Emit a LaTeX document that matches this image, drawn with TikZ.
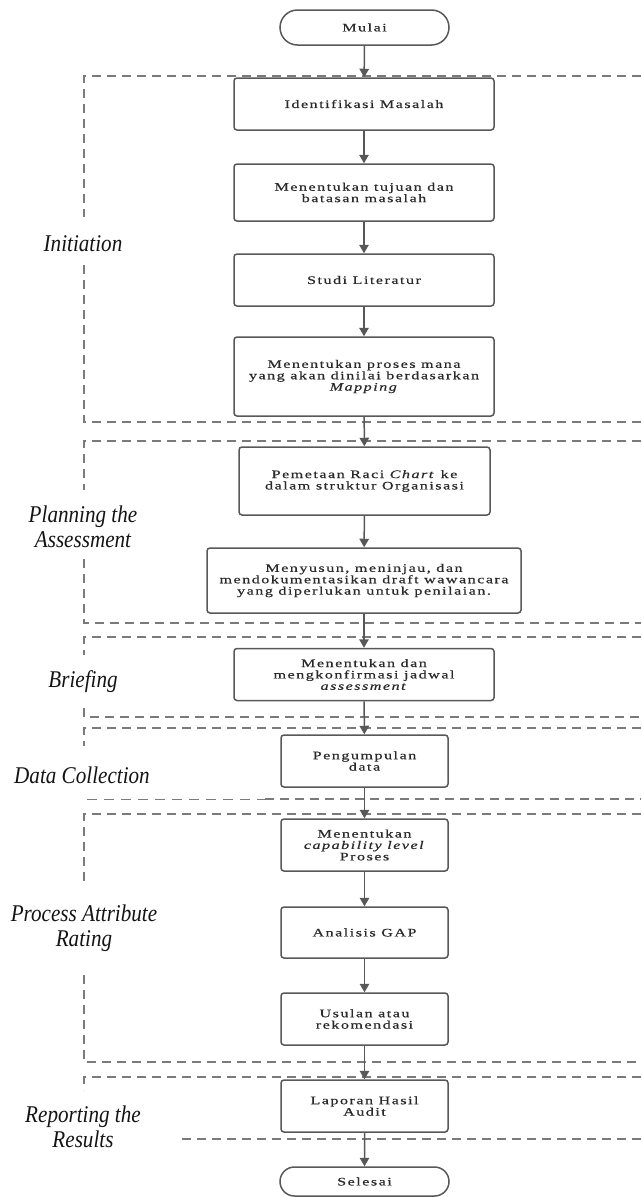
\documentclass[tikz,border=0pt]{standalone}
\usepackage{fontspec}
\setmainfont{Liberation Serif}
\newfontfamily\bxfont[FakeStretch=1.4,LetterSpace=13,FakeBold=0.5]{Liberation Serif}
\newfontfamily\labfont[FakeStretch=0.88]{Liberation Serif}
\usetikzlibrary{arrows.meta,shapes.misc}
\definecolor{ln}{HTML}{585858}
\definecolor{dsh}{HTML}{7A7A7A}
\definecolor{tx}{HTML}{2A2A2A}
\begin{document}
\begin{tikzpicture}[x=1pt,y=-1pt,
  proc/.style={draw=ln,line width=1.5pt,rounded corners=3pt,fill=white,inner sep=0pt,align=center,
    font=\bxfont\fontsize{11.5}{11.4}\selectfont,text=tx},
  term/.style={draw=ln,line width=1.5pt,rounded rectangle,fill=white,inner sep=0pt,align=center,
    font=\bxfont\fontsize{11.5}{11.4}\selectfont,text=tx,minimum width=169pt},
  arr/.style={draw=ln,line width=1.5pt,-{Triangle[length=8.5pt,width=9.5pt]}},
  dl/.style={draw=dsh,line width=1.7pt,dash pattern=on 9pt off 6pt},
  dlthin/.style={draw=dsh,line width=0.9pt,dash pattern=on 10pt off 7pt},
  lab/.style={font=\labfont\fontsize{24}{25}\selectfont\itshape,align=center,text=black!92,inner sep=0pt}]
\useasboundingbox (0,0) rectangle (641,1197);
\fill[white] (0,0) rectangle (641,1197);

% phase frames
\draw[dl] (641,76) -- (84,76) -- (84,217);
\draw[dl] (84,265) -- (84,422) -- (641,422);
\draw[dl] (641,441) -- (84,441) -- (84,490);
\draw[dl] (84,559) -- (84,623) -- (641,623);
\draw[dl] (641,637) -- (84,637) -- (84,655);
\draw[dl] (84,708) -- (84,717) -- (641,717);
\draw[dl] (641,728) -- (84,728) -- (84,746);
\draw[dlthin] (87,799) -- (265,799);
\draw[dl] (265,799) -- (641,799);
\draw[dl] (641,814) -- (84,814) -- (84,882);
\draw[dl] (84,975) -- (84,1062) -- (641,1062);
\draw[dl] (641,1077) -- (84,1077) -- (84,1090);
\draw[dl] (182,1139) -- (641,1139);

% labels
\node[lab] (l1) at (83,244) {Initiation};
\node[lab] (l2) at (83,527) {Planning the\\Assessment};
\node[lab] (l3) at (83,682) {Briefing};
\node[lab] (l4) at (82,775) {Data Collection};
\node[lab] (l5) at (84,928) {Process Attribute\\Rating};
\node[lab] (l6) at (83,1127) {Reporting the\\Results};

% nodes
\node[term,minimum height=35pt] (s) at (364.5,27.5) {Mulai};
\node[proc,minimum width=260pt,minimum height=52pt] (n1) at (364,104) {Identifikasi Masalah};
\node[proc,minimum width=260pt,minimum height=57pt] (n2) at (364,192.5) {Menentukan tujuan dan\\batasan masalah};
\node[proc,minimum width=260pt,minimum height=52pt] (n3) at (364,280) {Studi Literatur};
\node[proc,minimum width=260pt,minimum height=79pt] (n4) at (364,376.5) {Menentukan proses mana\\yang akan dinilai berdasarkan\\\textit{Mapping}};
\node[proc,minimum width=251pt,minimum height=68pt] (n5) at (364.5,481) {Pemetaan Raci \textit{Chart} ke\\dalam struktur Organisasi};
\node[proc,minimum width=314pt,minimum height=65pt] (n6) at (364,580.5) {Menyusun, meninjau, dan\\mendokumentasikan draft wawancara\\yang diperlukan untuk penilaian.};
\node[proc,minimum width=260pt,minimum height=52pt] (n7) at (364,674.5) {Menentukan dan\\mengkonfirmasi jadwal\\\textit{assessment}};
\node[proc,minimum width=167pt,minimum height=52pt] (n8) at (364.5,761) {Pengumpulan\\data};
\node[proc,minimum width=167pt,minimum height=52pt] (n9) at (364.5,845) {Menentukan\\\textit{capability level}\\Proses};
\node[proc,minimum width=167pt,minimum height=51pt] (n10) at (364.5,932.5) {Analisis GAP};
\node[proc,minimum width=167pt,minimum height=52pt] (n11) at (364.5,1019) {Usulan atau\\rekomendasi};
\node[proc,minimum width=167pt,minimum height=52pt] (n12) at (364.5,1106) {Laporan Hasil\\Audit};
\node[term,minimum height=29pt] (e) at (364.5,1181.5) {Selesai};

% connectors
\draw[arr] (s) -- (n1);
\draw[arr] (n1) -- (n2);
\draw[arr] (n2) -- (n3);
\draw[arr] (n3) -- (n4);
\draw[arr] (n4) -- (n5);
\draw[arr] (n5) -- (n6);
\draw[arr] (n6) -- (n7);
\draw[arr] (n7) -- (n8);
\draw[arr] (n8) -- (n9);
\draw[arr] (n9) -- (n10);
\draw[arr] (n10) -- (n11);
\draw[arr] (n11) -- (n12);
\draw[arr] (n12) -- (e);
\end{tikzpicture}
\end{document}
